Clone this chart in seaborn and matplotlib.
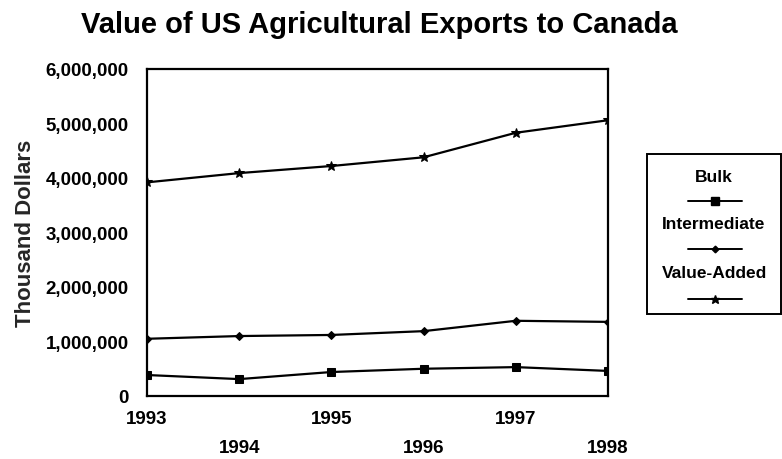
import matplotlib
matplotlib.use("Agg")
import matplotlib.pyplot as plt
from matplotlib.lines import Line2D
from matplotlib.patches import Rectangle
from matplotlib.ticker import FuncFormatter
import pandas as pd
import seaborn as sns

# US agricultural exports to Canada, thousand dollars
years = [1993, 1994, 1995, 1996, 1997, 1998]
bulk = [385000, 310000, 440000, 500000, 530000, 460000]
intermediate = [1050000, 1100000, 1120000, 1190000, 1380000, 1360000]
value_added = [3920000, 4090000, 4220000, 4380000, 4830000, 5060000]
series_names = ["Bulk", "Intermediate", "Value-Added"]
series_markers = {"Bulk": "s", "Intermediate": "D", "Value-Added": "*"}
marker_sizes = {"Bulk": 6, "Intermediate": 4, "Value-Added": 7.5}
y_ticks = [0, 1000000, 2000000, 3000000, 4000000, 5000000, 6000000]

df = pd.DataFrame({
    "Year": years * 3,
    "Value": bulk + intermediate + value_added,
    "Category": sum([[n] * len(years) for n in series_names], []),
})

sns.set_theme(style="white")
plt.rcParams["font.family"] = ["Liberation Sans", "DejaVu Sans"]
plt.rcParams["font.weight"] = "bold"

fig = plt.figure(figsize=(7.82, 4.6), dpi=100)
W, H = 782, 460
ax = fig.add_axes([147 / W, 1 - 397 / H, (608 - 147) / W, (397 - 70) / H])

for name in series_names:
    sub = df[df["Category"] == name]
    sns.lineplot(data=sub, x="Year", y="Value", ax=ax, color="black",
                 linewidth=1.6, marker=series_markers[name],
                 markersize=marker_sizes[name], markeredgecolor="black",
                 legend=False)

ax.set_xlim(years[0], years[-1])
ax.set_ylim(y_ticks[0], y_ticks[-1])
ax.set_yticks(y_ticks)
ax.yaxis.set_major_formatter(FuncFormatter(lambda v, p: f"{int(v):,}"))
ax.set_xticks(years)
ax.set_xticklabels([str(y) for y in years])
ax.set_xlabel("")
ax.set_ylabel("Thousand Dollars", fontsize=16, fontweight="bold", labelpad=7)

for s in ax.spines.values():
    s.set_visible(True)
    s.set_color("black")
    s.set_linewidth(1.6)

ax.tick_params(axis="y", direction="in", length=6, width=1.2, color="black",
               labelsize=13.5, pad=13, labelcolor="black")
ax.tick_params(axis="x", direction="in", length=7.5, width=1.2, color="black",
               labelsize=13.5, labelcolor="black")
for lbl in ax.get_yticklabels() + ax.get_xticklabels():
    lbl.set_fontweight("bold")

# stagger the year labels onto two rows
for i, tick in enumerate(ax.xaxis.get_major_ticks()):
    tick.set_pad(10 if i % 2 == 0 else 31)

fig.text(379 / W, 1 - 25 / H, "Value of US Agricultural Exports to Canada",
         ha="center", va="center", fontsize=21, fontweight="bold", color="black")

# legend box: each label sits above its line sample
fig.patches.append(Rectangle((647 / W, 1 - 315 / H), (781 - 647) / W, 160 / H,
                             transform=fig.transFigure, fill=False,
                             edgecolor="black", linewidth=1.4))
label_y = [177, 225, 273]
line_y = [202, 250, 300]
for name, ty, ly in zip(series_names, label_y, line_y):
    fig.text(714 / W, 1 - ty / H, name, ha="center", va="center",
             fontsize=12.5, fontweight="bold", color="black")
    fig.lines.append(Line2D([688 / W, 742 / W], [1 - ly / H, 1 - ly / H],
                            transform=fig.transFigure, color="black",
                            linewidth=1.4))
    fig.lines.append(Line2D([715 / W], [1 - ly / H], transform=fig.transFigure,
                            color="black", linestyle="none",
                            marker=series_markers[name],
                            markersize=marker_sizes[name] * 0.85))

fig.savefig("out.png", dpi=100, facecolor="white")
